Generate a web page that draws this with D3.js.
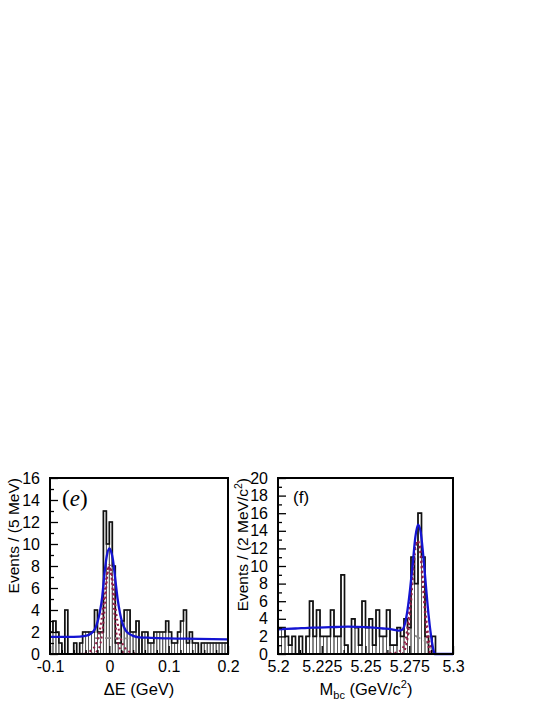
<!DOCTYPE html>
<html>
<head>
<meta charset="utf-8">
<script src="https://cdn.jsdelivr.net/npm/d3@7"></script>
<style>
  body { margin: 0; background: #fff; }
  svg { display: block; }
  text { font-family: "Liberation Sans", Arial, sans-serif; fill: #000; }
</style>
</head>
<body>
<div id="chart"></div>
<script>
// ---- panel (e): Delta E, 5 MeV bins from -0.1 to 0.2
const deCounts = [2,3,2,1,0,4,0,0,1,0, 1,2,2,2,2,4,2,2,13,10, 12,8,1,1,3,4,4,2,2,3,
                  0,2,2,1,1,2,2,2,2,3, 2,1,1,2,3,4,1,2,1,1, 0,1,1,1,1,1,1,1,1,1];
const deFitX = [-0.1,-0.06,-0.04,-0.03,-0.024,-0.02,-0.016,-0.012,-0.008,-0.004,0,0.003,0.006,0.01,0.014,0.018,0.022,0.027,0.033,0.04,0.05,0.07,0.1,0.15,0.2];
const deFitY = [1.55,1.56,1.65,1.9,2.3,2.9,3.8,5.2,7.4,9.0,9.6,9.3,8.6,6.8,5.0,3.7,2.8,2.2,1.85,1.65,1.52,1.47,1.42,1.38,1.33];
const deSigAX = [-0.1,-0.05,-0.04,-0.03,-0.022,-0.016,-0.011,-0.007,-0.003,0,0.003,0.007,0.011,0.016,0.022,0.03,0.04,0.05,0.2];
const deSigAY = [0,0,0.1,0.35,1.0,2.2,4.0,6.0,7.6,8.1,7.6,6.0,4.0,2.2,1.0,0.35,0.1,0,0];
const deSigBX = [-0.03,-0.02,-0.013,-0.008,-0.004,0,0.004,0.008,0.013,0.02,0.03];
const deSigBY = [0,0.3,1.5,4.0,6.8,8.0,6.8,4.0,1.5,0.3,0];
const deBkgX = [-0.024,0.032];
const deBkgY = [1.45,1.42];
const deXTicks = [-0.1,0,0.1,0.2];
const deXTickLabels = ["-0.1","0","0.1","0.2"];
const deYTicks = [0,2,4,6,8,10,12,14,16];

// ---- panel (f): Mbc, 2 MeV bins from 5.2 to 5.3
const mbcCounts = [3,3,2,1,2,0,2,0,2,6, 2,5,2,2,2,5,2,2,9,1, 0,4,3,1,6,3,4,1,5,2,
                   2,5,1,1,3,2,4,3,11,8, 16,11,2,0,2,0,0,0,0,0];
const mbcFitX = [5.2,5.21,5.22,5.23,5.24,5.25,5.26,5.265,5.269,5.271,5.2725,5.274,5.2755,5.277,5.2785,5.28,5.2815,5.283,5.2845,5.286,5.2875,5.289,5.2895,5.3];
const mbcFitY = [2.8,2.9,3.0,3.05,3.1,3.05,2.9,2.8,2.65,2.75,3.4,5.0,7.4,10.3,13.3,14.7,13.9,11.2,7.8,4.5,2.0,0.3,0,0];
const mbcSigAX = [5.258,5.266,5.27,5.2725,5.2745,5.2765,5.278,5.2797,5.2815,5.283,5.2845,5.286,5.2875,5.289,5.3];
const mbcSigAY = [0,0.1,0.4,1.3,3.8,8.5,11.8,12.9,11.8,8.0,4.5,2.0,0.5,0,0];
const mbcSigBX = [5.271,5.2735,5.2755,5.2772,5.2786,5.2797,5.281,5.2825,5.284,5.2855,5.287];
const mbcSigBY = [0,1.2,4.5,9.0,12.0,12.8,12.0,8.5,4.5,1.5,0];
const mbcBkgX = [5.273,5.277,5.281,5.285,5.2875,5.289];
const mbcBkgY = [2.5,2.2,1.8,1.3,0.7,0];
const mbcXTicks = [5.2,5.225,5.25,5.275,5.3];
const mbcXTickLabels = ["5.2","5.225","5.25","5.275","5.3"];
const mbcYTicks = [0,2,4,6,8,10,12,14,16,18,20];

const W = 545, H = 705;
const plotTop = 478, plotBottom = 654;

const svg = d3.select("#chart").append("svg")
  .attr("width", W).attr("height", H);

function pts(xs, ys) { return xs.map((v, i) => [v, ys[i]]); }

function drawPanel(p) {
  const x = d3.scaleLinear().domain(p.xDomain).range([p.left, p.right]);
  const y = d3.scaleLinear().domain(p.yDomain).range([plotBottom, plotTop]);
  const g = svg.append("g");

  // histogram: thin box per bin, then a heavier step outline on top
  const n = p.counts.length;
  const bins = p.counts.map((c, i) => ({
    lo: p.xDomain[0] + i * p.binW, hi: p.xDomain[0] + (i + 1) * p.binW, c: c
  })).filter(d => d.c > 0);
  g.append("g").selectAll("rect").data(bins).join("rect")
    .attr("x", d => x(d.lo)).attr("width", d => x(d.hi) - x(d.lo))
    .attr("y", d => y(d.c)).attr("height", d => y(0) - y(d.c))
    .attr("fill", "none").attr("stroke", "#555").attr("stroke-width", 0.9);
  const steps = [[p.xDomain[0], 0]]
    .concat(p.counts.map((c, i) => [p.xDomain[0] + i * p.binW, c]))
    .concat([[p.xDomain[1], p.counts[n - 1]], [p.xDomain[1], 0]]);
  g.append("path")
    .attr("d", d3.line().x(d => x(d[0])).y(d => y(d[1])).curve(d3.curveStepAfter)(steps))
    .attr("fill", "none").attr("stroke", "#111").attr("stroke-width", 1.7);

  const line = d3.line().x(d => x(d[0])).y(d => y(d[1])).curve(d3.curveMonotoneX);

  g.append("path").attr("d", line(p.bkg))
    .attr("fill", "none").attr("stroke", "#8c8c8c").attr("stroke-width", 1.8)
    .attr("stroke-dasharray", "6,4");
  [p.sigA, p.sigB].forEach(s => {
    g.append("path").attr("d", line(s))
      .attr("fill", "none").attr("stroke", "#921c45").attr("stroke-width", 2)
      .attr("stroke-dasharray", "2,3");
  });
  g.append("path").attr("d", line(p.fit))
    .attr("fill", "none").attr("stroke", "#1414d2").attr("stroke-width", 2.3);

  // axes, ticks pointing inward
  const minorX = d3.range(p.xTicks.length - 1).flatMap(i =>
    d3.range(1, p.xSub).map(j => p.xTicks[i] + (p.xTicks[i + 1] - p.xTicks[i]) * j / p.xSub));
  const minorY = d3.range(p.yDomain[0] + 1, p.yDomain[1], 2);

  g.append("g").attr("transform", `translate(0,${plotBottom})`)
    .call(d3.axisBottom(x).tickValues(p.xTicks).tickFormat((d, i) => p.xTickLabels[i])
      .tickSize(-8).tickPadding(7));
  g.append("g").attr("transform", `translate(0,${plotBottom})`)
    .call(d3.axisBottom(x).tickValues(minorX).tickFormat("").tickSize(-4));
  g.append("g").attr("transform", `translate(${p.left},0)`)
    .call(d3.axisLeft(y).tickValues(p.yTicks).tickSize(-8).tickPadding(10));
  g.append("g").attr("transform", `translate(${p.left},0)`)
    .call(d3.axisLeft(y).tickValues(minorY).tickFormat("").tickSize(-4));
  g.selectAll(".domain").remove();
  g.selectAll(".tick line").attr("stroke", "#000").attr("stroke-width", 1.3);
  g.selectAll(".tick text").attr("font-size", 16).attr("font-family", "Liberation Sans, Arial, sans-serif");

  // frame
  g.append("rect").attr("x", p.left).attr("y", plotTop)
    .attr("width", p.right - p.left).attr("height", plotBottom - plotTop)
    .attr("fill", "none").attr("stroke", "#000").attr("stroke-width", 2);

  return g;
}

// panel (e)
const ge = drawPanel({
  xDomain: [-0.1, 0.2], yDomain: [0, 16], left: 50, right: 228, binW: 0.005,
  counts: deCounts, fit: pts(deFitX, deFitY), sigA: pts(deSigAX, deSigAY),
  sigB: pts(deSigBX, deSigBY), bkg: pts(deBkgX, deBkgY),
  xTicks: deXTicks, xTickLabels: deXTickLabels, xSub: 5, yTicks: deYTicks
});
ge.append("text").attr("transform", "translate(19,478) rotate(-90)")
  .attr("text-anchor", "end").attr("font-size", 15.5).text("Events / (5 MeV)");
ge.append("text").attr("x", 139).attr("y", 695).attr("text-anchor", "middle")
  .attr("font-size", 16.5).text("\u0394E (GeV)");
const eLab = ge.append("text").attr("x", 62).attr("y", 506)
  .attr("font-size", 23).style("font-family", "Liberation Serif, serif");
eLab.append("tspan").text("(");
eLab.append("tspan").attr("font-style", "italic").text("e");
eLab.append("tspan").text(")");

// panel (f)
const gf = drawPanel({
  xDomain: [5.2, 5.3], yDomain: [0, 20], left: 278, right: 453, binW: 0.002,
  counts: mbcCounts, fit: pts(mbcFitX, mbcFitY), sigA: pts(mbcSigAX, mbcSigAY),
  sigB: pts(mbcSigBX, mbcSigBY), bkg: pts(mbcBkgX, mbcBkgY),
  xTicks: mbcXTicks, xTickLabels: mbcXTickLabels, xSub: 2, yTicks: mbcYTicks
});
const yt = gf.append("text").attr("transform", "translate(248,478) rotate(-90)")
  .attr("text-anchor", "end").attr("font-size", 15.5);
yt.append("tspan").text("Events / (2 MeV/c");
yt.append("tspan").attr("font-size", 10.5).attr("dy", -6).text("2");
yt.append("tspan").attr("dy", 6).text(")");
const xt = gf.append("text").attr("x", 366).attr("y", 695).attr("text-anchor", "middle")
  .attr("font-size", 16.5);
xt.append("tspan").text("M");
xt.append("tspan").attr("font-size", 11).attr("dy", 4).text("bc");
xt.append("tspan").attr("dy", -4).text(" (GeV/c");
xt.append("tspan").attr("font-size", 11).attr("dy", -7).text("2");
xt.append("tspan").attr("dy", 7).text(")");
gf.append("text").attr("x", 293).attr("y", 503).attr("font-size", 17).text("(f)");
</script>
</body>
</html>
